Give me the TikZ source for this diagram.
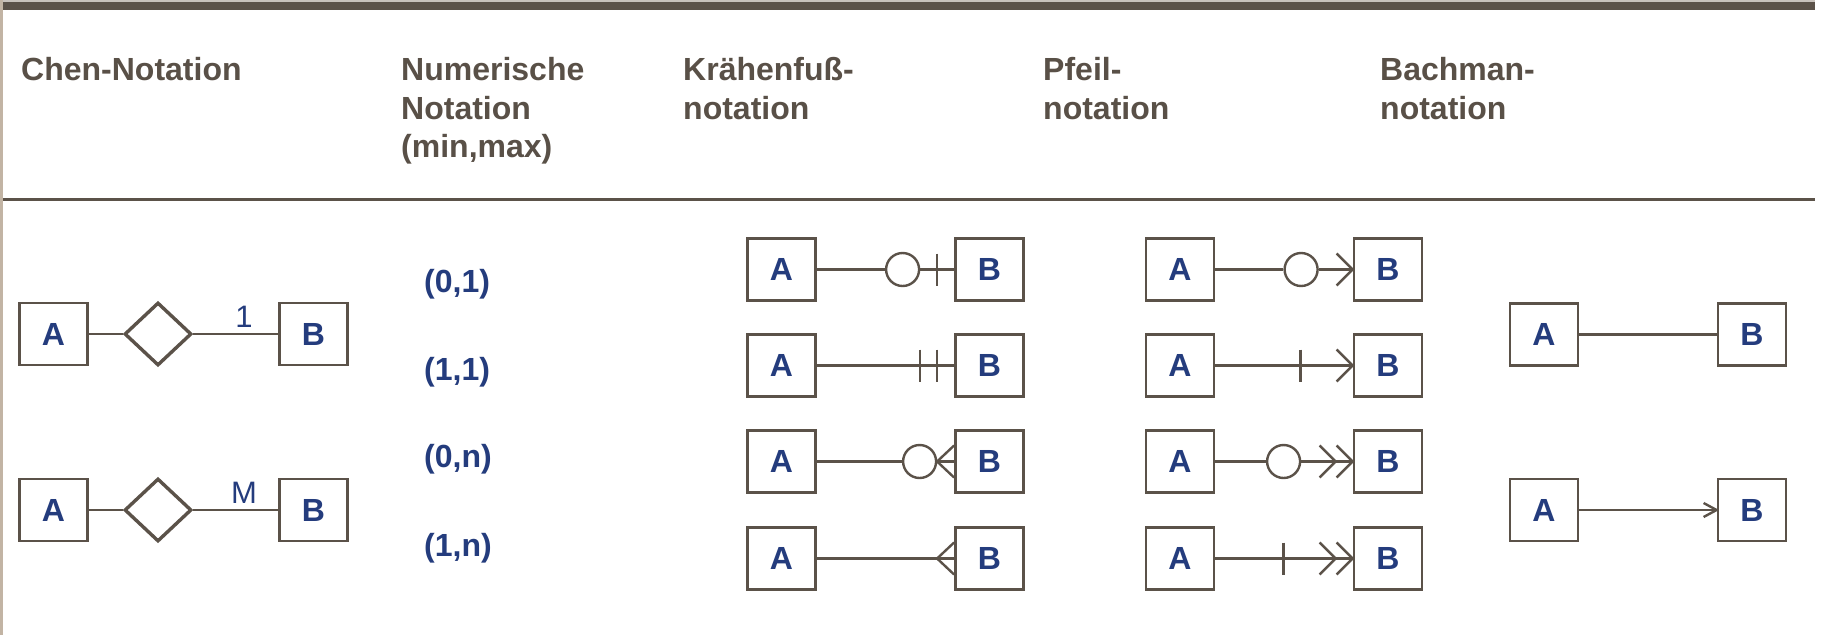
\documentclass[tikz,border=0pt]{standalone}
\usepackage{fontspec}
\setmainfont{Liberation Sans}
\usetikzlibrary{shapes.geometric,calc}
\definecolor{lnc}{RGB}{91,82,73}
\definecolor{hdc}{RGB}{89,80,71}
\definecolor{blu}{RGB}{36,60,125}
\definecolor{tanbar}{RGB}{194,180,164}
\definecolor{edge}{RGB}{200,194,188}
\begin{document}
\begin{tikzpicture}[x=1pt,y=-1pt,
  ent/.style={rectangle,draw=lnc,line width=2.8pt,minimum width=68pt,minimum height=62pt,inner sep=0pt,fill=white,
    font=\fontsize{32}{38}\selectfont\bfseries,text=blu},
  rel/.style={diamond,draw=lnc,line width=3.4pt,minimum width=67pt,minimum height=63pt,inner sep=0pt},
  con/.style={draw=lnc,line width=2.4pt,line join=round},
  circ/.style={circle,draw=lnc,line width=2.4pt,minimum size=33pt,inner sep=0pt,fill=white},
  hd/.style={anchor=base west,inner sep=0pt,font=\fontsize{32}{38}\selectfont\bfseries,text=hdc},
  num/.style={anchor=base west,inner sep=0pt,font=\fontsize{32}{38}\selectfont\bfseries,text=blu},
  card/.style={anchor=base,inner sep=0pt,font=\fontsize{31}{36}\selectfont,text=blu}]
\useasboundingbox (0,0) rectangle (1823,635);
\fill[white] (0,0) rectangle (1823,635);
% frame lines
\fill[edge] (3,0) rectangle (1815,2);
\fill[tanbar] (0,0) rectangle (3.3,635);
\fill[lnc] (3.3,2) rectangle (1815,10);
\fill[lnc] (3.3,198) rectangle (1815,201);
% headers
\node[hd] (h1) at (21,80) {Chen-Notation};
\node[hd] (h2a) at (401,80) {Numerische};
\node[hd] (h2b) at (401,119) {Notation};
\node[hd] (h2c) at (401,157) {(min,max)};
\node[hd] (h3a) at (683,80) {Krähenfuß-};
\node[hd] (h3b) at (683,119) {notation};
\node[hd] (h4a) at (1043,80) {Pfeil-};
\node[hd] (h4b) at (1043,119) {notation};
\node[hd] (h5a) at (1380,80) {Bachman-};
\node[hd] (h5b) at (1380,119) {notation};
% Chen
\foreach \r/\y/\c in {1/334/1,2/510/M}{
  \node[ent] (cA\r) at (53.5,\y) {A};
  \node[rel] (cD\r) at (158,\y) {};
  \node[ent] (cB\r) at (313.5,\y) {B};
  \draw[con] (cA\r.east) -- (cD\r.west);
  \draw[con] (cD\r.east) -- (cB\r.west);
  \node[card] (cl\r) at (244,\y-7) {\c};
}
% numeric
\node[num] (n1) at (424,292) {(0,1)};
\node[num] (n2) at (424,380) {(1,1)};
\node[num] (n3) at (424,467) {(0,n)};
\node[num] (n4) at (424,556) {(1,n)};
% Kraehenfuss and Pfeil boxes
\foreach \r/\y in {1/269.5,2/365.5,3/461.5,4/558.5}{
  \node[ent] (kA\r) at (781.5,\y) {A};
  \node[ent] (kB\r) at (989.5,\y) {B};
  \node[ent] (pA\r) at (1180,\y) {A};
  \node[ent] (pB\r) at (1388,\y) {B};
}
% Kraehenfuss row 1: (0,1)
\node[circ] (kc1) at ($(kB1.west)+(-51.5,0)$) {};
\draw[con] (kA1.east) -- (kc1.west);
\draw[con] (kc1.east) -- (kB1.west);
\draw[con] ($(kB1.west)+(-17,-16)$) -- ++(0,32);
% row 2: (1,1)
\draw[con] (kA2.east) -- (kB2.west);
\draw[con] ($(kB2.west)+(-17,-16)$) -- ++(0,32);
\draw[con] ($(kB2.west)+(-34,-16)$) -- ++(0,32);
% row 3: (0,n)
\node[circ] (kc3) at ($(kB3.west)+(-34.5,0)$) {};
\draw[con] (kA3.east) -- (kc3.west);
\draw[con] (kc3.east) -- (kB3.west);
\draw[con] ($(kB3.west)+(0,-16)$) -- ($(kB3.west)+(-17,0)$) -- ($(kB3.west)+(0,16)$);
% row 4: (1,n)
\draw[con] (kA4.east) -- (kB4.west);
\draw[con] ($(kB4.west)+(0,-16)$) -- ($(kB4.west)+(-17,0)$) -- ($(kB4.west)+(0,16)$);
% Pfeil row 1
\node[circ] (pc1) at ($(pB1.west)+(-51.5,0)$) {};
\draw[con] (pA1.east) -- (pc1.west);
\draw[con] (pc1.east) -- (pB1.west);
\draw[con] ($(pB1.west)+(-16,-16)$) -- (pB1.west) -- ($(pB1.west)+(-16,16)$);
% Pfeil row 2
\draw[con] (pA2.east) -- (pB2.west);
\draw[con] ($(pB2.west)+(-52,-16)$) -- ++(0,32);
\draw[con] ($(pB2.west)+(-16,-16)$) -- (pB2.west) -- ($(pB2.west)+(-16,16)$);
% Pfeil row 3
\node[circ] (pc3) at ($(pB3.west)+(-69,0)$) {};
\draw[con] (pA3.east) -- (pc3.west);
\draw[con] (pc3.east) -- (pB3.west);
\draw[con] ($(pB3.west)+(-16,-16)$) -- (pB3.west) -- ($(pB3.west)+(-16,16)$);
\draw[con] ($(pB3.west)+(-33,-16)$) -- ($(pB3.west)+(-17,0)$) -- ($(pB3.west)+(-33,16)$);
% Pfeil row 4
\draw[con] (pA4.east) -- (pB4.west);
\draw[con] ($(pB4.west)+(-69,-16)$) -- ++(0,32);
\draw[con] ($(pB4.west)+(-16,-16)$) -- (pB4.west) -- ($(pB4.west)+(-16,16)$);
\draw[con] ($(pB4.west)+(-33,-16)$) -- ($(pB4.west)+(-17,0)$) -- ($(pB4.west)+(-33,16)$);
% Bachman
\node[ent] (bA1) at (1544,334.5) {A};
\node[ent] (bB1) at (1752,334.5) {B};
\node[ent] (bA2) at (1544,510) {A};
\node[ent] (bB2) at (1752,510) {B};
\draw[con] (bA1.east) -- (bB1.west);
\draw[con] (bA2.east) -- (bB2.west);
\draw[con] ($(bB2.west)+(-13,-7)$) -- (bB2.west) -- ($(bB2.west)+(-13,7)$);
\end{tikzpicture}
\end{document}
